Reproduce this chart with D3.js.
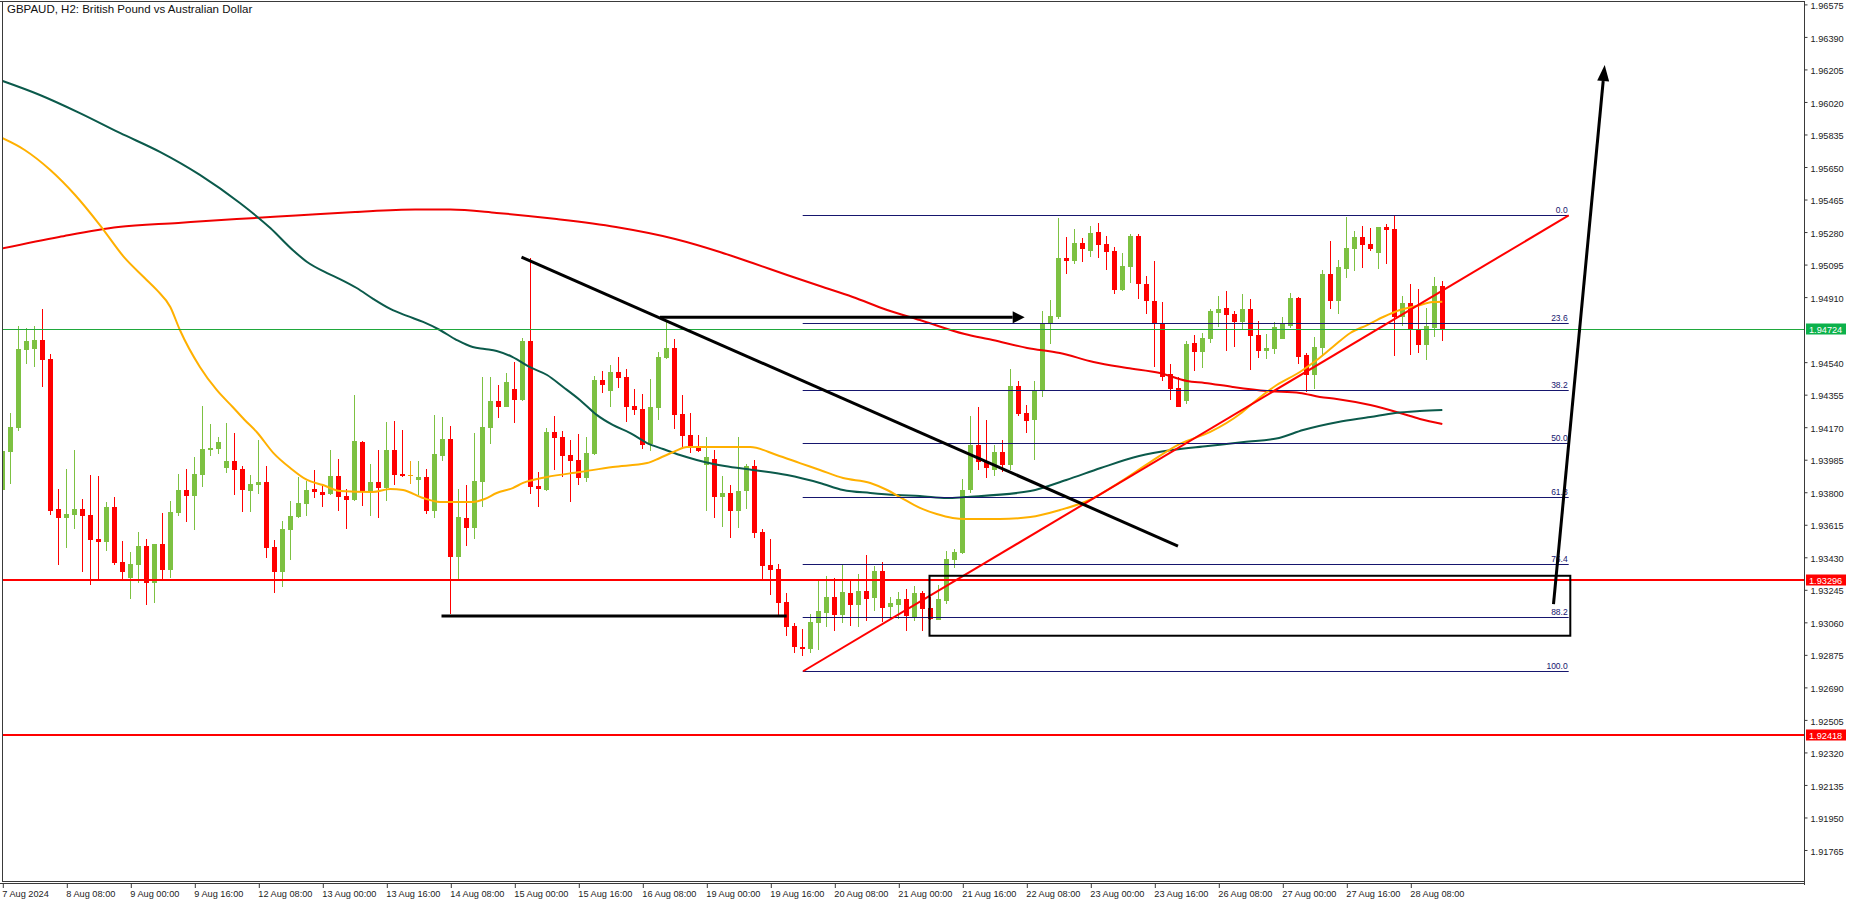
<!DOCTYPE html>
<html><head><meta charset="utf-8">
<script src="https://cdn.jsdelivr.net/npm/d3@7/dist/d3.min.js"></script>
<style>html,body{margin:0;padding:0;background:#fff;overflow:hidden}</style>
</head><body><svg id="c" width="1857" height="904"></svg>
<script>
const symbolTitle = "GBPAUD, H2:  British Pound vs Australian Dollar";
const opens = [1.93810,1.94026,1.94164,1.94608,1.94614,1.94663,1.94555,1.93702,1.93653,1.93670,1.93702,1.93668,1.93531,1.93516,1.93713,1.93400,1.93311,1.93385,1.93491,1.93283,1.93503,1.93357,1.93681,1.93810,1.93778,1.93897,1.94039,1.94045,1.93937,1.93975,
1.93929,1.93806,1.93838,1.93855,1.93486,1.93345,1.93584,1.93656,1.93730,1.93816,1.93798,1.93787,1.93889,1.93776,1.93755,1.94083,1.93804,1.93855,1.93823,1.94037,1.93901,1.93893,1.93867,1.93884,1.93692,1.94003,1.94100,1.93431,1.93651,1.93596,
1.93857,1.94163,1.94316,1.94282,1.94384,1.94322,1.94657,1.93833,1.93812,1.94140,1.94111,1.94009,1.93981,1.93880,1.94015,1.94436,1.94375,1.94481,1.94453,1.94288,1.94271,1.94073,1.94278,1.94561,1.94618,1.94242,1.94123,1.94049,1.93954,1.93986,
1.93772,1.93795,1.93692,1.93806,1.93948,1.93573,1.93385,1.93362,1.93175,1.93038,1.92919,1.92907,1.93055,1.93112,1.93203,1.93101,1.93226,1.93158,1.93237,1.93197,1.93351,1.93146,1.93158,1.93192,1.93089,1.93226,1.93141,1.93072,1.93180,1.93414,
1.93453,1.93812,1.94066,1.93969,1.93924,1.94026,1.93952,1.94401,1.94248,1.94208,1.94381,1.94756,1.94794,1.95130,1.95113,1.95215,1.95169,1.95277,1.95209,1.95169,1.94949,1.95078,1.95255,1.94982,1.94885,1.94762,1.94470,1.94390,1.94318,1.94646,
1.94595,1.94669,1.94817,1.94845,1.94811,1.94766,1.94840,1.94692,1.94601,1.94612,1.94671,1.94743,1.94902,1.94578,1.94464,1.94618,1.95039,1.94885,1.95067,1.95181,1.95249,1.95209,1.95158,1.95306,1.95295,1.94794,1.94874,1.94726,1.94635,1.94731,
1.94970];
const highs = [1.94094,1.94248,1.94743,1.94731,1.94743,1.94839,1.94584,1.93816,1.93929,1.94037,1.93759,1.93895,1.93890,1.93742,1.93770,1.93522,1.93457,1.93571,1.93533,1.93503,1.93679,1.93747,1.93901,1.93929,1.93998,1.94288,1.94185,1.94111,1.94191,1.94134,
1.93948,1.93895,1.94094,1.93946,1.93525,1.93634,1.93749,1.93884,1.93861,1.93924,1.93833,1.94037,1.93986,1.93816,1.94350,1.94089,1.93958,1.94037,1.94197,1.94202,1.94151,1.93975,1.93975,1.93929,1.94238,1.94225,1.94174,1.93816,1.93838,1.94134,
1.94453,1.94453,1.94407,1.94475,1.94538,1.94675,1.95130,1.93912,1.94163,1.94231,1.94146,1.94094,1.94128,1.94111,1.94458,1.94487,1.94521,1.94566,1.94498,1.94384,1.94356,1.94441,1.94595,1.94777,1.94669,1.94350,1.94248,1.94123,1.94111,1.94037,
1.93891,1.93838,1.94113,1.93960,1.93982,1.93590,1.93533,1.93391,1.93226,1.93055,1.93021,1.93106,1.93294,1.93323,1.93311,1.93385,1.93294,1.93334,1.93442,1.93380,1.93402,1.93203,1.93232,1.93249,1.93266,1.93237,1.93203,1.93271,1.93465,1.93476,
1.93874,1.94231,1.94284,1.94208,1.94066,1.94094,1.94498,1.94430,1.94293,1.94430,1.94828,1.94893,1.95357,1.95249,1.95295,1.95243,1.95312,1.95329,1.95255,1.95192,1.95158,1.95266,1.95266,1.95027,1.95113,1.94879,1.94527,1.94453,1.94657,1.94692,
1.94703,1.94840,1.94913,1.94942,1.94828,1.94925,1.94896,1.94771,1.94697,1.94766,1.94794,1.94930,1.94908,1.94589,1.94680,1.95061,1.95226,1.95118,1.95363,1.95283,1.95312,1.95300,1.95306,1.95323,1.95374,1.94913,1.94982,1.94953,1.94845,1.95022,
1.94999];
const lows = [1.93791,1.93846,1.94147,1.94529,1.94510,1.94398,1.93668,1.93383,1.93482,1.93590,1.93345,1.93271,1.93302,1.93465,1.93383,1.93302,1.93192,1.93283,1.93158,1.93169,1.93302,1.93311,1.93664,1.93628,1.93584,1.93829,1.94005,1.94017,1.93908,1.93783,
1.93687,1.93687,1.93789,1.93425,1.93226,1.93260,1.93414,1.93651,1.93662,1.93764,1.93715,1.93781,1.93692,1.93590,1.93749,1.93721,1.93664,1.93653,1.93749,1.93840,1.93886,1.93846,1.93783,1.93675,1.93653,1.93975,1.93106,1.93300,1.93493,1.93533,
1.93715,1.94072,1.94219,1.94282,1.94191,1.94316,1.93789,1.93715,1.93806,1.93924,1.93886,1.93744,1.93840,1.93857,1.94009,1.94364,1.94284,1.94392,1.94199,1.94238,1.94045,1.94034,1.94210,1.94555,1.94159,1.94045,1.94022,1.94028,1.93692,1.93653,
1.93601,1.93539,1.93596,1.93704,1.93539,1.93300,1.93215,1.93101,1.92981,1.92881,1.92866,1.92885,1.92900,1.93032,1.93010,1.93055,1.93038,1.93032,1.93067,1.93124,1.93061,1.93089,1.93078,1.93010,1.93067,1.93010,1.93072,1.93072,1.93163,1.93368,
1.93448,1.93793,1.93924,1.93878,1.93890,1.93912,1.93924,1.94231,1.94132,1.93981,1.94341,1.94642,1.94783,1.95040,1.95097,1.95107,1.95137,1.95131,1.95063,1.94927,1.94944,1.94989,1.94898,1.94813,1.94511,1.94432,1.94324,1.94284,1.94301,1.94489,
1.94506,1.94646,1.94737,1.94601,1.94623,1.94720,1.94493,1.94561,1.94555,1.94584,1.94669,1.94731,1.94527,1.94369,1.94384,1.94572,1.94840,1.94811,1.95016,1.95056,1.95073,1.95169,1.95067,1.95095,1.94572,1.94743,1.94578,1.94589,1.94549,1.94680,
1.94659];
const closes = [1.94032,1.94168,1.94612,1.94657,1.94663,1.94551,1.93690,1.93653,1.93673,1.93702,1.93664,1.93527,1.93516,1.93713,1.93395,1.93345,1.93389,1.93491,1.93283,1.93503,1.93357,1.93685,1.93810,1.93778,1.93901,1.94043,1.94049,1.94083,1.93975,1.93926,
1.93812,1.93844,1.93855,1.93482,1.93345,1.93588,1.93662,1.93736,1.93810,1.93800,1.93783,1.93889,1.93772,1.93755,1.94089,1.93804,1.93855,1.93823,1.94037,1.93897,1.93891,1.93893,1.93884,1.93692,1.94015,1.94100,1.93431,1.93656,1.93596,1.93861,
1.94168,1.94316,1.94284,1.94424,1.94322,1.94657,1.93829,1.93818,1.94140,1.94108,1.94005,1.93977,1.93880,1.94020,1.94436,1.94407,1.94481,1.94449,1.94284,1.94267,1.94068,1.94282,1.94566,1.94618,1.94238,1.94119,1.94056,1.94034,1.93998,1.93772,
1.93795,1.93692,1.93806,1.93948,1.93567,1.93380,1.93357,1.93169,1.93032,1.92919,1.92907,1.93061,1.93124,1.93203,1.93101,1.93232,1.93158,1.93237,1.93192,1.93351,1.93141,1.93169,1.93192,1.93095,1.93226,1.93135,1.93078,1.93192,1.93419,1.93459,
1.93812,1.94066,1.93969,1.93935,1.94026,1.93952,1.94403,1.94244,1.94204,1.94381,1.94762,1.94800,1.95130,1.95113,1.95215,1.95183,1.95272,1.95205,1.95166,1.94949,1.95084,1.95255,1.94984,1.94887,1.94756,1.94455,1.94384,1.94284,1.94640,1.94595,
1.94675,1.94828,1.94840,1.94805,1.94766,1.94840,1.94686,1.94601,1.94618,1.94737,1.94754,1.94902,1.94566,1.94464,1.94623,1.95039,1.94885,1.95078,1.95186,1.95249,1.95204,1.95181,1.95306,1.95289,1.94794,1.94874,1.94722,1.94635,1.94743,1.94970,
1.94722];

const timeLabels = ["7 Aug 2024","8 Aug 08:00","9 Aug 00:00","9 Aug 16:00","12 Aug 08:00","13 Aug 00:00","13 Aug 16:00","14 Aug 08:00","15 Aug 00:00","15 Aug 16:00","16 Aug 08:00","19 Aug 00:00","19 Aug 16:00","20 Aug 08:00","21 Aug 00:00","21 Aug 16:00","22 Aug 08:00","23 Aug 00:00","23 Aug 16:00","26 Aug 08:00","27 Aug 00:00","27 Aug 16:00","28 Aug 08:00"];
const timeLabelBars = [0,8,16,24,32,40,48,56,64,72,80,88,96,104,112,120,128,136,144,152,160,168,176];
const priceTicks = [1.96575,1.96390,1.96205,1.96020,1.95835,1.95650,1.95465,1.95280,1.95095,1.94910,1.94540,1.94355,1.94170,1.93985,1.93800,1.93615,1.93430,1.93245,1.93060,1.92875,1.92690,1.92505,1.92320,1.92135,1.91950,1.91765];

// moving averages: [bar, price]
const maOrange = [[-0.3,1.95818],[2.8,1.95744],[6,1.95630],[9.1,1.95488],[12.2,1.95317],[15.3,1.95130],[17.8,1.95016],[19.3,1.94948],[21,1.94851],[22.2,1.94720],[24.7,1.94510],[26.8,1.94379],[28.8,1.94282],[30.3,1.94208],[31.8,1.94140],[33.9,1.94020],[36,1.93935],[38.1,1.93867],[40.1,1.93838],[42.2,1.93804],[46.3,1.93799],[48.5,1.93816],[50.1,1.93810],[52.6,1.93764],[54.7,1.93742],[58.8,1.93742],[60.3,1.93759],[61.8,1.93793],[63.8,1.93821],[65.1,1.93850],[68.1,1.93884],[72.2,1.93912],[76.3,1.93941],[80.6,1.93963],[82.2,1.93992],[83.9,1.94026],[85.6,1.94054],[90.3,1.94054],[93.5,1.94054],[96.8,1.94009],[99.7,1.93963],[102.2,1.93924],[105.1,1.93878],[108.5,1.93850],[110.6,1.93810],[112.2,1.93770],[114.7,1.93708],[116.8,1.93673],[118.8,1.93651],[120.3,1.93645],[124.7,1.93645],[128.5,1.93656],[132.2,1.93696],[135.9,1.93753],[139.7,1.93855],[143.5,1.93969],[147.2,1.94072],[151,1.94140],[154.7,1.94242],[156.8,1.94322],[159.3,1.94407],[162.2,1.94481],[164.3,1.94549],[166.3,1.94623],[168.5,1.94703],[170.6,1.94748],[172.6,1.94794],[174.7,1.94834],[176.8,1.94857],[178.8,1.94879],[180,1.94881]];
const maTeal = [[-0.3,1.96142],[4.7,1.96057],[9.7,1.95954],[14.7,1.95841],[19.7,1.95733],[24.7,1.95602],[29.7,1.95442],[33.5,1.95300],[36.3,1.95175],[38.1,1.95107],[40.6,1.95044],[42.2,1.95010],[44.3,1.94959],[46.4,1.94896],[48.5,1.94840],[50.6,1.94800],[52.6,1.94766],[54.7,1.94720],[56.8,1.94663],[58.8,1.94623],[60.3,1.94612],[61.8,1.94601],[63.8,1.94566],[65.9,1.94510],[68.1,1.94464],[70.1,1.94396],[72.2,1.94322],[74.3,1.94237],[76.3,1.94180],[78.5,1.94134],[80.6,1.94077],[82.6,1.94043],[84.7,1.94009],[86.8,1.93981],[88.9,1.93958],[90.3,1.93946],[93.8,1.93924],[98.1,1.93895],[102.2,1.93850],[105.1,1.93810],[108.5,1.93793],[111.8,1.93781],[114.7,1.93776],[118.1,1.93764],[120.3,1.93770],[128.5,1.93804],[133,1.93867],[137.3,1.93935],[142.1,1.94003],[146.2,1.94037],[150.7,1.94060],[155.2,1.94083],[159.6,1.94106],[162.6,1.94151],[167,1.94197],[171,1.94225],[174.1,1.94248],[177.2,1.94259],[180,1.94265]];
const maRed = [[-0.3,1.95181],[7.1,1.95249],[14.5,1.95306],[22,1.95329],[29.3,1.95351],[36.7,1.95371],[44.1,1.95391],[51.6,1.95405],[56,1.95405],[61.8,1.95386],[69.3,1.95351],[76.7,1.95306],[84.1,1.95238],[89.7,1.95164],[93.8,1.95101],[98.1,1.95033],[102.2,1.94970],[106.3,1.94908],[110.6,1.94834],[114.7,1.94777],[120.3,1.94697],[123.8,1.94663],[128.1,1.94618],[132.2,1.94589],[136.4,1.94538],[140.6,1.94504],[144.7,1.94475],[148.1,1.94430],[150.3,1.94419],[153.8,1.94396],[158.1,1.94373],[162.2,1.94362],[164.7,1.94339],[166.8,1.94328],[171,1.94293],[174.7,1.94248],[177.2,1.94214],[180,1.94185]];

// horizontal levels
const currentPrice = 1.94724;
const supportLevels = [1.93296, 1.92418];

// fibonacci retracement
const fibLevels = [0.0, 23.6, 38.2, 50.0, 61.8, 76.4, 88.2, 100.0];
const fibTop = 1.95372, fibBottom = 1.92779;
const fibBarStart = 100.05, fibBarEnd = 195.8;

// drawn objects [bar, price]
const downTrend = [[64.9,1.95135],[146.96,1.93491]];
const upTrend = [[100.1,1.92779],[195.8,1.95372]];
const arrowRight = [[82.2,1.94792],[127.8,1.94792]];
const lowLine = [[54.9,1.93093],[98.05,1.93093]];
const boxZone = [[115.9,1.93322],[196.0,1.92981]];
const bigArrow = [[193.9,1.93161],[200.3,1.96227]];

const W = 1857, H = 904, axisX = 1804.5, plotBottom = 882;
const svg = d3.select("#c");
const x = d3.scaleLinear().domain([0, 100]).range([2.3, 802.3]);
const y = d3.scaleLinear().domain([1.94724, 1.92418]).range([329.3, 734.7]);
const font = "'Liberation Sans', Arial, sans-serif";

svg.append("rect").attr("width", W).attr("height", H).attr("fill", "#fff");
svg.append("defs").append("clipPath").attr("id", "plot")
  .append("rect").attr("x", 3).attr("y", 2).attr("width", axisX - 3.5).attr("height", plotBottom - 2.5);
const g = svg.append("g").attr("clip-path", "url(#plot)");

const bull = "#7dc142", bear = "#ff0000", dojiCol = "#f0a30a";
const idx = d3.range(opens.length);
const cg = g.append("g");
idx.forEach(i => {
  const o = opens[i], c = closes[i];
  const col = o === c ? dojiCol : (c > o ? bull : bear);
  const cx = Math.round(x(i));
  const yh = Math.round(y(highs[i])), yl = Math.round(y(lows[i]));
  cg.append("rect").attr("x", cx).attr("y", yh).attr("width", 1).attr("height", Math.max(1, yl - yh)).attr("fill", col);
  const top = Math.round(y(Math.max(o, c))), bot = Math.round(y(Math.min(o, c)));
  cg.append("rect").attr("x", cx - 2).attr("y", top).attr("width", 5).attr("height", Math.max(1, bot - top)).attr("fill", col);
});

const line = d3.line().x(d => x(d[0])).y(d => y(d[1])).curve(d3.curveMonotoneX);
g.append("path").attr("d", line(maRed)).attr("fill", "none").attr("stroke", "#f00000").attr("stroke-width", 2);
g.append("path").attr("d", line(maTeal)).attr("fill", "none").attr("stroke", "#0b5a4b").attr("stroke-width", 2);
g.append("path").attr("d", line(maOrange)).attr("fill", "none").attr("stroke", "#ffb000").attr("stroke-width", 2);

// fibonacci
const fibPrice = lv => fibTop - (fibTop - fibBottom) * lv / 100;
const fibCol = "#16166e";
fibLevels.forEach(lv => {
  const yy = Math.round(y(fibPrice(lv))) + 0.5;
  g.append("line").attr("x1", x(fibBarStart)).attr("x2", x(fibBarEnd)).attr("y1", yy).attr("y2", yy)
    .attr("stroke", fibCol).attr("stroke-width", 1);
  g.append("text").attr("x", x(fibBarEnd) - 1).attr("y", yy - 3).attr("text-anchor", "end")
    .attr("font-family", font).attr("font-size", 8.5).attr("fill", fibCol).text(lv.toFixed(1));
});

// horizontal levels
const hl = (p, col, w) => { const yy = Math.round(y(p)) + (w % 2 ? 0.5 : 0);
  g.append("line").attr("x1", 0).attr("x2", axisX).attr("y1", yy).attr("y2", yy).attr("stroke", col).attr("stroke-width", w); };
hl(currentPrice, "#1fa83c", 1);
supportLevels.forEach(p => hl(p, "#ff0000", 2));

const seg = (pts, col, w) => g.append("line")
  .attr("x1", x(pts[0][0])).attr("y1", y(pts[0][1])).attr("x2", x(pts[1][0])).attr("y2", y(pts[1][1]))
  .attr("stroke", col).attr("stroke-width", w);
seg(upTrend, "#ff0000", 2);
seg(downTrend, "#000", 3);
seg(lowLine, "#000", 3);

g.append("rect").attr("x", x(boxZone[0][0])).attr("y", y(boxZone[0][1]))
  .attr("width", x(boxZone[1][0]) - x(boxZone[0][0])).attr("height", y(boxZone[1][1]) - y(boxZone[0][1]))
  .attr("fill", "none").attr("stroke", "#000").attr("stroke-width", 2);

function arrow(pts, len, half) {
  const x1 = x(pts[0][0]), y1 = y(pts[0][1]), x2 = x(pts[1][0]), y2 = y(pts[1][1]);
  const a = Math.atan2(y2 - y1, x2 - x1);
  const bx = x2 - len * Math.cos(a), by = y2 - len * Math.sin(a);
  g.append("line").attr("x1", x1).attr("y1", y1).attr("x2", bx).attr("y2", by).attr("stroke", "#000").attr("stroke-width", 3);
  const px = -Math.sin(a) * half, py = Math.cos(a) * half;
  g.append("path").attr("d", `M${x2},${y2}L${bx + px},${by + py}L${bx - px},${by - py}Z`).attr("fill", "#000");
}
arrow(arrowRight, 12, 6);
arrow(bigArrow, 16, 6);

// frame
const frameCol = "#3a3a3a";
svg.append("line").attr("x1", 0).attr("x2", axisX).attr("y1", 1.5).attr("y2", 1.5).attr("stroke", frameCol);
svg.append("line").attr("x1", 2.5).attr("x2", 2.5).attr("y1", 1).attr("y2", plotBottom).attr("stroke", frameCol);
svg.append("line").attr("x1", axisX).attr("x2", axisX).attr("y1", 1).attr("y2", 885).attr("stroke", frameCol);
svg.append("line").attr("x1", 2).attr("x2", axisX).attr("y1", 881.5).attr("y2", 881.5).attr("stroke", frameCol);
svg.append("line").attr("x1", 0).attr("x2", axisX).attr("y1", 883.5).attr("y2", 883.5).attr("stroke", frameCol);

// price axis
const yAxis = d3.axisRight(y).tickValues(priceTicks).tickSize(3).tickPadding(3).tickFormat(d => d.toFixed(5));
const ya = svg.append("g").attr("transform", `translate(${axisX},0.5)`).call(yAxis);
ya.select(".domain").remove();
ya.selectAll("line").attr("stroke", frameCol);
ya.selectAll("text").attr("font-family", font).attr("font-size", 9.2).attr("fill", "#222").attr("dy", "0.45em");

// price boxes
const box = (p, col) => {
  const yy = Math.round(y(p));
  svg.append("rect").attr("x", 1806).attr("y", yy - 5.5).attr("width", 40).attr("height", 11).attr("fill", col);
  svg.append("text").attr("x", 1809).attr("y", yy + 3.5).attr("font-family", font).attr("font-size", 9.2)
    .attr("fill", "#fff").text(p.toFixed(5));
};
box(currentPrice, "#0cb14b");
supportLevels.forEach(p => box(p, "#ff0000"));

// time axis
const xAxis = d3.axisBottom(x).tickValues(timeLabelBars).tickSize(4).tickPadding(2)
  .tickFormat((d, i) => timeLabels[i]);
const xa = svg.append("g").attr("transform", `translate(0.5,884)`).call(xAxis);
xa.select(".domain").remove();
xa.selectAll("line").attr("stroke", frameCol);
xa.selectAll("text").attr("font-family", font).attr("font-size", 9.2).attr("fill", "#222")
  .attr("text-anchor", "start").attr("x", -1);

// title
svg.append("text").attr("x", 7).attr("y", 13).attr("font-family", font).attr("font-size", 11.5)
  .attr("fill", "#111").text(symbolTitle);
</script></body></html>
